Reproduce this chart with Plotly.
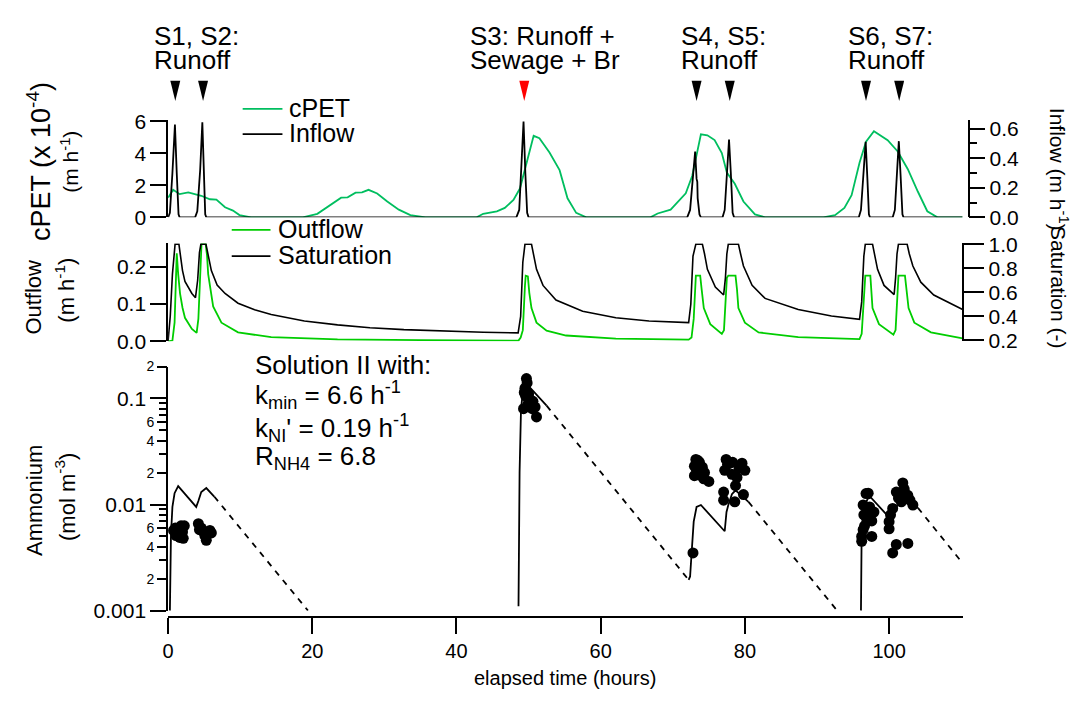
import math
import plotly.graph_objects as go

W, H = 1075, 703
FONT = "Liberation Sans, Arial, Helvetica, sans-serif"
CPET_GREEN = "rgb(0,190,95)"
OUT_GREEN = "rgb(0,205,0)"


def px(x):
    return x / W


def py(y):
    return 1 - y / H


# ---------------- top panel: cPET and inflow ----------------
cpet_t = [0.0, 0.7, 1.6, 2.8, 4.6, 5.8, 6.7, 7.9, 9.0, 9.9, 11.5, 18.7, 20.7, 22.6, 24.0, 24.9,
          26.0, 26.9, 27.8, 29.0, 30.4, 32.0, 33.6, 35.7, 42.8, 43.7, 45.6, 46.7, 47.9, 48.8,
          49.7, 50.7, 51.5, 52.9, 54.3, 55.4, 56.6, 58.0, 66.9, 67.9, 69.7, 71.8, 72.7, 73.9,
          74.8, 75.8, 76.8, 77.5, 78.6, 79.8, 81.4, 82.8, 90.9, 92.5, 93.8, 94.8, 95.9, 96.8,
          97.9, 99.8, 101.2, 102.6, 104.0, 105.3, 106.7, 110.2]
cpet_v = [1.23, 1.72, 1.45, 1.56, 1.35, 1.13, 1.11, 0.63, 0.42, 0.14, 0.0, 0.0, 0.22, 0.79, 1.23,
          1.25, 1.54, 1.56, 1.72, 1.49, 0.99, 0.48, 0.14, 0.0, 0.0, 0.22, 0.38, 0.59, 1.09, 1.80,
          3.41, 5.10, 4.95, 4.05, 2.95, 1.19, 0.28, 0.0, 0.0, 0.24, 0.48, 1.50, 2.60, 5.19,
          5.13, 4.83, 4.02, 2.80, 2.10, 0.99, 0.18, 0.0, 0.0, 0.14, 0.59, 1.39, 3.41, 4.73,
          5.39, 4.83, 4.12, 3.01, 1.60, 0.38, 0.0, 0.0]

inflow_t = [0.0, 0.25, 0.6, 0.95, 1.2, 1.45, 1.6,
            3.75, 4.05, 4.45, 4.75, 4.95, 5.15, 5.3,
            48.3, 48.7, 49.0, 49.3, 49.55, 49.8, 50.0,
            72.0, 72.4, 72.8, 73.1, 73.3, 73.4, 73.45, 73.7, 73.9,
            76.9, 77.2, 77.5, 77.8, 78.05, 78.3, 78.5,
            95.8, 96.1, 96.45, 96.75, 97.0, 97.2, 97.35,
            100.5, 100.8, 101.1, 101.35, 101.6, 101.85, 102.0, 110.2]
inflow_v = [0.0, 0.03, 0.30, 0.627, 0.30, 0.02, 0.0,
            0.0, 0.04, 0.32, 0.642, 0.30, 0.02, 0.0,
            0.0, 0.05, 0.35, 0.648, 0.30, 0.03, 0.0,
            0.0, 0.05, 0.30, 0.445, 0.26, 0.24, 0.13, 0.02, 0.0,
            0.0, 0.05, 0.30, 0.526, 0.30, 0.03, 0.0,
            0.0, 0.05, 0.30, 0.511, 0.25, 0.02, 0.0,
            0.0, 0.05, 0.30, 0.515, 0.28, 0.02, 0.0, 0.0]

# sampling events (arrow markers) and their labels
event_t = [1.0, 4.85, 49.4, 73.3, 77.9, 96.8, 101.4]
event_color = ["black", "black", "red", "black", "black", "black", "black"]
event_labels = [("S1, S2:", "Runoff", 152), ("S3: Runoff +", "Sewage + Br", 470),
                ("S4, S5:", "Runoff", 682), ("S6, S7:", "Runoff", 850)]

# ---------------- middle panel: outflow and saturation ----------------
out_t = [0.0, 0.6, 0.9, 1.1, 1.2, 1.4, 1.66, 2.0, 2.34, 3.3, 3.96, 4.2, 4.45, 4.64, 5.2, 5.4,
         5.56, 5.9, 6.25, 7.4, 9.7, 14.3, 23.5, 35.0, 48.6, 48.9, 49.2, 49.5, 49.6, 49.9, 50.1,
         50.4, 51.1, 52.5, 55.2, 62.1, 72.2, 72.6, 72.9, 73.2, 73.8, 74.0, 74.3, 75.2, 76.8,
         77.1, 77.3, 77.5, 77.7, 78.7, 78.9, 79.1, 80.0, 81.9, 87.4, 95.9, 96.2, 96.5, 96.7,
         97.4, 97.5, 97.7, 98.6, 100.6, 100.9, 101.1, 101.3, 102.2, 102.4, 102.7, 103.5, 105.8,
         110.2]
out_v = [0.0, 0.002, 0.05, 0.18, 0.236, 0.18, 0.128, 0.09, 0.063, 0.033, 0.0226, 0.06, 0.18,
         0.262, 0.262, 0.23, 0.18, 0.13, 0.0935, 0.05, 0.024, 0.011, 0.005, 0.003, 0.002, 0.01,
         0.03, 0.15, 0.176, 0.174, 0.13, 0.089, 0.05, 0.0286, 0.0156, 0.007, 0.0044, 0.01, 0.06,
         0.176, 0.176, 0.14, 0.089, 0.046, 0.02, 0.03, 0.10, 0.17, 0.176, 0.176, 0.14, 0.089,
         0.05, 0.024, 0.011, 0.006, 0.02, 0.10, 0.176, 0.176, 0.14, 0.089, 0.046, 0.018, 0.03,
         0.10, 0.176, 0.176, 0.14, 0.089, 0.05, 0.024, 0.008]

sat_t = [0.0, 0.3, 0.6, 0.85, 0.97, 1.5, 1.7, 2.0, 2.34, 3.3, 3.8, 4.1, 4.35, 4.55, 5.25, 5.5,
         6.0, 6.8, 7.9, 9.7, 12.0, 14.3, 18.9, 23.5, 28.0, 32.7, 38.0, 43.7, 48.55, 48.9, 49.2,
         49.5, 50.4, 50.7, 51.1, 52.0, 53.8, 57.5, 62.1, 66.7, 72.2, 72.5, 72.8, 73.2, 74.1,
         74.4, 74.8, 75.9, 77.05, 77.3, 77.5, 77.7, 79.1, 79.4, 79.8, 81.0, 82.8, 87.4, 92.0,
         95.9, 96.2, 96.5, 96.7, 97.7, 98.0, 98.4, 99.3, 100.7, 100.9, 101.1, 101.3, 102.5,
         102.8, 103.3, 104.4, 106.2, 110.2]
sat_v = [0.195, 0.40, 0.75, 0.95, 1.0, 1.0, 0.90, 0.78, 0.69, 0.59, 0.555, 0.70, 0.93, 1.0, 1.0,
         0.93, 0.78, 0.66, 0.59, 0.509, 0.455, 0.415, 0.361, 0.329, 0.305, 0.289, 0.277, 0.267,
         0.262, 0.40, 0.85, 1.0, 1.0, 0.92, 0.791, 0.657, 0.536, 0.442, 0.388, 0.361, 0.348,
         0.50, 0.90, 1.0, 1.0, 0.92, 0.791, 0.644, 0.577, 0.72, 0.92, 1.0, 1.0, 0.92, 0.818,
         0.657, 0.549, 0.456, 0.402, 0.375, 0.52, 0.90, 1.0, 1.0, 0.92, 0.791, 0.657, 0.581,
         0.72, 0.92, 1.0, 1.0, 0.92, 0.818, 0.684, 0.577, 0.456]

# ---------------- bottom panel: ammonium ----------------
model_t = [0.25, 0.3, 0.4, 0.6, 0.9, 1.4, 2.5, 3.9, 4.2, 4.6, 5.3, 6.0, 6.4, None,
           48.6, 48.75, 48.95, 49.3, 49.6, 52.5, None,
           72.2, 72.4, 72.6, 72.9, 73.3, 73.9, 77.2, 77.45, 77.7, 78.2, 78.7, 80.5, None,
           96.1, 96.2, 96.5, 97.05, 97.5, 100.3, 100.7, 101.4, 102.1, 103.3, 104.0]
model_v = [0.001, 0.0025, 0.0052, 0.0095, 0.0128, 0.0149, 0.0122, 0.0095, 0.0108, 0.0131, 0.0143,
           0.0127, 0.0119, None,
           0.0011, 0.02, 0.08, 0.13, 0.14, 0.0855, None,
           0.00195, 0.0021, 0.0034, 0.0069, 0.0095, 0.0099, 0.0056, 0.0085, 0.0099, 0.0125, 0.0136,
           0.0106, None,
           0.001, 0.006, 0.0095, 0.0114, 0.0116, 0.0072, 0.0086, 0.0106, 0.0122, 0.0100, 0.0093]

# first-order decay between events (dashed)
decay_t = [6.4, 19.4, None, 52.5, 72.2, None, 80.5, 92.8, None, 104.0, 110.2]
decay_v = [0.0119, 0.001, None, 0.0855, 0.00195, None, 0.0106, 0.001, None, 0.0093, 0.0028]

obs_t = [0.75, 1.0, 1.2, 1.4, 1.6, 1.8, 2.0, 2.25, 2.1, 1.1, 1.5, 1.9,
         4.2, 4.35, 4.6, 4.9, 5.1, 5.3, 5.5, 5.8, 6.0,
         49.7, 49.8, 49.5, 49.4, 49.3, 50.2, 50.6, 50.9, 51.1, 50.5, 49.9, 49.6, 50.0, 50.3,
         72.8, 73.2, 73.5, 73.7, 74.1, 73.0, 73.3, 74.4, 73.6, 75.0, 74.3, 73.0,
         77.4, 77.8, 78.3, 79.6, 80.0, 77.2, 78.2, 78.7, 77.05, 77.05, 78.6, 79.8, 77.6, 79.2, 78.9,
         96.8, 97.1, 96.4, 97.2, 97.9, 96.9, 97.6, 96.4, 96.2, 97.6, 96.2, 96.6, 97.3, 96.5,
         101.9, 101.0, 102.6, 103.3, 101.7, 100.2, 100.0, 100.0, 100.5, 102.1, 101.0, 102.6,
         100.5, 101.3, 102.9, 101.5]
obs_v = [0.0057, 0.0060, 0.0053, 0.0058, 0.0049, 0.0063, 0.0055, 0.0063, 0.0048, 0.0051, 0.0053,
         0.0058,
         0.0066, 0.0058, 0.0060, 0.0056, 0.0051, 0.0046, 0.0053, 0.0057, 0.0054,
         0.154, 0.140, 0.125, 0.114, 0.080, 0.098, 0.094, 0.083, 0.067, 0.080, 0.088, 0.105, 0.110,
         0.085,
         0.0035, 0.0266, 0.026, 0.025, 0.0225, 0.023, 0.021, 0.020, 0.019, 0.0165, 0.0175, 0.0187,
         0.0266, 0.0245, 0.025, 0.0245, 0.021, 0.021, 0.0193, 0.0151, 0.0131, 0.011, 0.0106, 0.0124,
         0.024, 0.022, 0.018,
         0.0127, 0.0128, 0.0099, 0.0089, 0.0085, 0.0075, 0.0070, 0.0058, 0.0050, 0.0050, 0.0045,
         0.0063, 0.0095, 0.0080,
         0.016, 0.0131, 0.0122, 0.0099, 0.0106, 0.008, 0.0069, 0.0059, 0.0092, 0.014, 0.0042,
         0.0043, 0.0035, 0.0115, 0.011, 0.0125]

amm_major = [0.001, 0.01, 0.1]
amm_major_text = ["0.001", "0.01", "0.1"]
amm_labeled_minor = [0.002, 0.004, 0.006, 0.02, 0.04, 0.06, 0.2]
amm_labeled_minor_text = ["2", "4", "6", "2", "4", "6", "2"]
amm_minor = [m * 10 ** e for e in (-3, -2, -1) for m in (3, 5, 7, 8, 9)]

X_RANGE = [0, 110.2]
fig = go.Figure()

fig.add_trace(go.Scatter(x=cpet_t, y=cpet_v, mode="lines", yaxis="y",
                         line=dict(color=CPET_GREEN, width=1.8)))
fig.add_trace(go.Scatter(x=inflow_t, y=inflow_v, mode="lines", yaxis="y2",
                         line=dict(color="black", width=1.8)))
fig.add_trace(go.Scatter(x=out_t, y=out_v, mode="lines", yaxis="y3",
                         line=dict(color=OUT_GREEN, width=1.8)))
fig.add_trace(go.Scatter(x=sat_t, y=sat_v, mode="lines", yaxis="y4",
                         line=dict(color="black", width=1.6)))
fig.add_trace(go.Scatter(x=model_t, y=model_v, mode="lines", yaxis="y5",
                         line=dict(color="black", width=1.8)))
fig.add_trace(go.Scatter(x=decay_t, y=decay_v, mode="lines", yaxis="y5",
                         line=dict(color="black", width=1.8, dash="6px,6px")))
fig.add_trace(go.Scatter(x=obs_t, y=obs_v, mode="markers", yaxis="y5",
                         marker=dict(color="black", size=11)))
fig.add_trace(go.Scatter(x=[None], y=[None], mode="markers", yaxis="y6"))

tick_font = dict(family=FONT, size=21, color="black")
common_y = dict(showline=True, linecolor="black", linewidth=1.5, ticks="outside",
                tickcolor="black", tickwidth=1.5, showgrid=False, zeroline=False,
                tickfont=tick_font)

fig.update_layout(
    width=W, height=H, margin=dict(l=0, r=0, t=0, b=0),
    paper_bgcolor="white", plot_bgcolor="rgba(0,0,0,0)", showlegend=False,
    font=dict(family=FONT, color="black"),
    xaxis=dict(domain=[px(163), px(962)], range=X_RANGE, anchor="free", position=py(626),
               showline=True, linecolor="black", linewidth=1.5, ticks="outside", ticklen=16,
               tickwidth=1.5, tickcolor="black", tickvals=[0, 20, 40, 60, 80, 100],
               showgrid=False, zeroline=False, tickfont=dict(family=FONT, size=20, color="black")),
    yaxis=dict(common_y, domain=[py(213), py(113)], range=[0, 6.06], anchor="x",
               tickvals=[0, 2, 4, 6], ticklen=16),
    yaxis2=dict(common_y, overlaying="y", side="right", anchor="free", position=px(968),
                range=[0, 0.655], tickvals=[0, 0.2, 0.4, 0.6], tickformat=".1f", ticklen=16,
                minor=dict(tickvals=[0.1, 0.3, 0.5], ticklen=8, tickcolor="black",
                           tickwidth=1.5, ticks="outside")),
    yaxis3=dict(common_y, domain=[py(341), py(240)], range=[0, 0.262], anchor="x",
                tickvals=[0, 0.1, 0.2], tickformat=".1f", ticklen=16),
    yaxis4=dict(common_y, overlaying="y3", side="right", anchor="free", position=px(962),
                range=[0.192, 1.0056], tickvals=[0.2, 0.4, 0.6, 0.8, 1.0], tickformat=".1f",
                ticklen=21),
    yaxis5=dict(common_y, domain=[py(619), py(367)], type="log",
                range=[-3, math.log10(0.2)], anchor="x", tickvals=amm_major,
                ticktext=amm_major_text, ticklen=16,
                minor=dict(tickvals=amm_minor, ticklen=7, tickcolor="black", tickwidth=1.5,
                           ticks="outside")),
    yaxis6=dict(overlaying="y5", side="left", anchor="x", type="log",
                range=[-3, math.log10(0.2)], showline=False, showgrid=False, zeroline=False,
                ticks="outside", ticklen=10, tickwidth=1.5, tickcolor="black",
                tickvals=amm_labeled_minor, ticktext=amm_labeled_minor_text,
                tickfont=dict(family=FONT, size=14, color="black")),
)

shapes = []
ann = []

# event arrows above the top panel
half_w = 5 / ((962 - 163) / (X_RANGE[1] - X_RANGE[0]))
for t, c in zip(event_t, event_color):
    shapes.append(dict(type="path", xref="x", yref="paper",
                       path=f"M {t - half_w},{py(72)} L {t + half_w},{py(72)} L {t},{py(93)} Z",
                       fillcolor=c, line=dict(width=0)))

TXT_DX = -5  # annotation boxes carry a little inner padding
for l1, l2, x0 in event_labels:
    ann.append(dict(text=l1, x=px(x0 + TXT_DX), y=py(26), xanchor="left", yanchor="middle",
                    size=26))
    ann.append(dict(text=l2, x=px(x0 + TXT_DX), y=py(51), xanchor="left", yanchor="middle",
                    size=26))

# legends drawn inside the panels
legend_items = [("cPET", CPET_GREEN, 238, 278, 101, 288),
                ("Inflow", "black", 238, 278, 127, 288),
                ("Outflow", OUT_GREEN, 227, 266, 226, 277),
                ("Saturation", "black", 227, 266, 253, 277)]
for name, col, x0, x1, yy, xt in legend_items:
    shapes.append(dict(type="line", xref="paper", yref="paper", x0=px(x0), x1=px(x1),
                       y0=py(yy), y1=py(yy), line=dict(color=col, width=1.8)))
    ann.append(dict(text=name, x=px(xt + TXT_DX), y=py(yy - 1), xanchor="left",
                    yanchor="middle", size=25))

# model parameters
param_lines = [("Solution II with:", 365),
               ("k<sub>min</sub> = 6.6 h<sup>-1</sup>", 396),
               ("k<sub>NI</sub>' = 0.19 h<sup>-1</sup>", 430),
               ("R<sub>NH4</sub> = 6.8", 461)]
for txt, yy in param_lines:
    ann.append(dict(text=txt, x=px(253 + TXT_DX), y=py(yy), xanchor="left", yanchor="middle",
                    size=26))

for a in ann:
    size = a.pop("size")
    a.update(xref="paper", yref="paper", showarrow=False,
             font=dict(family=FONT, size=size, color="black"))

# axis titles
titles = [
    ("cPET (x 10<sup>-4</sup>)", 33, 155, -90, 27),
    ("(m h<sup>-1</sup>)", 64, 156, -90, 21),
    ("Outflow", 28, 295, -90, 22),
    ("(m h<sup>-1</sup>)", 59, 288, -90, 22),
    ("Ammonium", 28, 505, -90, 22),
    ("(mol m<sup>-3</sup>)", 60, 502, -90, 22),
    ("Inflow (m h<sup>-1</sup>)", 1059, 163, 90, 21),
    ("Saturation (-)", 1059, 285, 90, 21),
    ("elapsed time (hours)", 562, 689, 0, 20),
]
for txt, x, y, ang, size in titles:
    ann.append(dict(text=txt, x=px(x), y=py(y), xref="paper", yref="paper", showarrow=False,
                    textangle=ang, xanchor="center", yanchor="middle",
                    font=dict(family=FONT, size=size, color="black")))

fig.update_layout(shapes=shapes, annotations=ann)
fig.write_html("out.html")
